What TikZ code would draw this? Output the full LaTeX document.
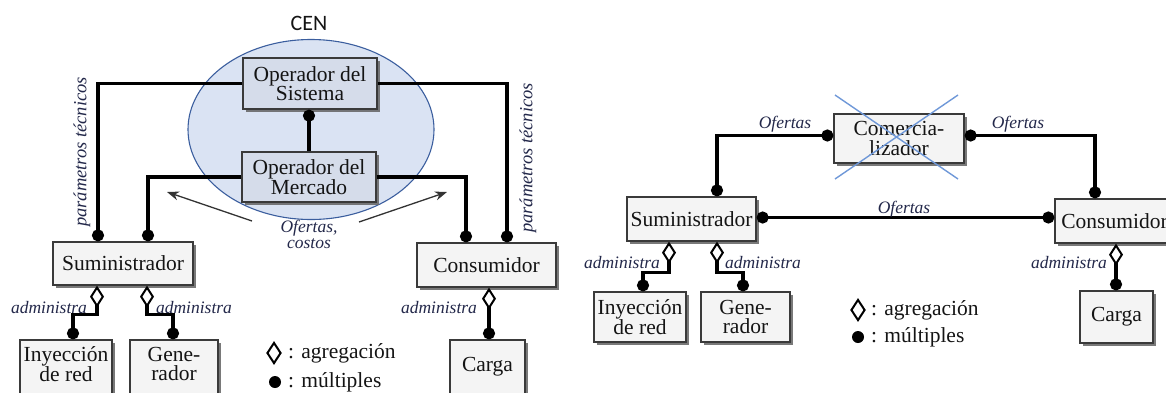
\documentclass[tikz,border=0pt]{standalone}
\usepackage{fontspec}
\setmainfont{Liberation Serif}
\newfontfamily\cenfont{Carlito}
\usetikzlibrary{arrows.meta,shapes.geometric,shadows}

\definecolor{boxfill}{HTML}{F4F4F4}
\definecolor{boxline}{HTML}{3A3A3A}
\definecolor{shadecol}{HTML}{6A6A6A}
\definecolor{cenfill}{HTML}{DAE3F3}
\definecolor{cenline}{HTML}{3B5E9E}
\definecolor{opfill}{HTML}{D5DCEA}
\definecolor{labelcol}{HTML}{23284A}
\definecolor{crosscol}{HTML}{6F98D8}
\definecolor{textcol}{HTML}{141414}

\newcommand\bxfont{\fontsize{21.5}{19.5}\selectfont}
\newcommand\lgfont{\fontsize{21.5}{21}\selectfont}
\newcommand\lblfont{\fontsize{17.5}{16}\selectfont\itshape}
\newcommand\ptfont{\fontsize{18.5}{18}\selectfont\itshape}

\tikzset{
  mdot/.tip={Circle[length=12pt,width=12pt]},
  aggr/.tip={Diamond[length=22pt,width=14pt,fill=white,line width=2pt]},
  entity/.style={draw=boxline, line width=1.3pt, fill=boxfill, inner sep=0pt,
    align=center, font=\bxfont, text=textcol,
    drop shadow={shadow xshift=2.5pt, shadow yshift=-2.5pt, fill=shadecol, opacity=0.9}},
  opbox/.style={fill=opfill},
  btext/.style={inner sep=0pt, align=center, font=\bxfont, text=textcol},
  conn/.style={line width=3.2pt, black},
  lbl/.style={inner sep=0pt, font=\lblfont, text=labelcol, align=center},
  ptlbl/.style={inner sep=0pt, font=\ptfont, text=labelcol, rotate=90},
  legtext/.style={inner sep=0pt, anchor=west, font=\lgfont, text=textcol},
  legdiamond/.style={diamond, draw=black, line width=2pt, fill=white, inner sep=0pt,
    minimum width=14pt, minimum height=21pt},
  legdot/.style={circle, fill=black, inner sep=0pt, minimum size=12pt},
  thinarrow/.style={draw=black!80, line width=1.3pt, -{Stealth[length=12pt,width=9pt]}},
  crossline/.style={draw=crosscol, line width=1.4pt},
}

\begin{document}
\begin{tikzpicture}[x=1pt, y=-1pt]
\useasboundingbox (0,0) rectangle (1166,392);

% ---------------- CEN block ----------------
\node[ellipse, draw=cenline, fill=cenfill, line width=1.1pt, inner sep=0pt,
      minimum width=246pt, minimum height=180pt] (cen) at (311,129.5) {};
\node[inner sep=0pt, font=\cenfont\fontsize{22}{22}\selectfont, text=textcol] (cenlbl) at (309,23) {CEN};

% ---------------- left scheme: entities ----------------
\node[entity, opbox, minimum width=134pt, minimum height=51pt] (ods) at (310,83.5) {Operador del\\Sistema};
\node[entity, opbox, minimum width=134pt, minimum height=50pt] (odm) at (309,177) {Operador del\\Mercado};
\node[entity, minimum width=140pt, minimum height=43pt] (sumL) at (123,263.5) {Suministrador};
\node[entity, minimum width=139pt, minimum height=44pt] (conL) at (486.5,265) {Consumidor};
\node[entity, minimum width=92pt, minimum height=60pt] (inyL) at (66,370) {};
\node[entity, minimum width=88pt, minimum height=60pt] (genL) at (174,370) {};
\node[entity, minimum width=75pt, minimum height=60pt] (cargaL) at (487.5,370) {};
\node[btext] (inyLt) at (66,364) {Inyección\\de red};
\node[btext] (genLt) at (174,364) {Gene-\\rador};
\node[btext] (cargaLt) at (487.5,367) {Carga};

% links to the operators
\draw[conn, -{mdot}] (ods.west) -| ([xshift=-25pt]sumL.north);
\draw[conn, -{mdot}] (ods.east) -| ([xshift=20.5pt]conL.north);
\draw[conn, -{mdot}] (odm.west) -| ([xshift=25pt]sumL.north);
\draw[conn, -{mdot}] (odm.east) -| ([xshift=-20.5pt]conL.north);
\draw[conn, -{mdot}] (odm.north) -- (odm.north |- ods.south);

% aggregations
\draw[conn, {aggr}-{mdot}] ([xshift=-26pt]sumL.south) -- ++(0,29) -| ([xshift=7pt]inyL.north);
\draw[conn, {aggr}-{mdot}] ([xshift=24pt]sumL.south) -- ++(0,29) -| ([xshift=-1pt]genL.north);
\draw[conn, {aggr}-{mdot}] ([xshift=2.5pt]conL.south) -- ([xshift=1.5pt]cargaL.north);

% labels
\node[ptlbl] (ptL) at (82,152) {parámetros técnicos};
\node[ptlbl] (ptR) at (528,158) {parámetros técnicos};
\node[lbl] (admL1) at (49,308) {administra};
\node[lbl] (admL2) at (194,308) {administra};
\node[lbl] (admL3) at (439,308) {administra};
\node[lbl] (ofc) at (309,234) {Ofertas,\\costos};
\coordinate (ofcA) at (252,221);
\coordinate (ofcB) at (359,222);
\coordinate (tipA) at (167,192);
\coordinate (tipB) at (447,192);
\draw[thinarrow] (ofcA) -- (tipA);
\draw[thinarrow] (ofcB) -- (tipB);

% legend
\node[legdiamond] (lgdL) at (274,353) {};
\node[legdot] (lgcL) at (275,382) {};
\node[legtext] (lgdLt) at (288,353) {: agregación};
\node[legtext] (lgcLt) at (288,382) {: múltiples};

% ---------------- right scheme ----------------
\node[entity, minimum width=130pt, minimum height=49pt] (com) at (899,138.5) {Comercia-\\lizador};
\node[entity, minimum width=129pt, minimum height=44pt] (sumR) at (691.5,219) {Suministrador};
\node[entity, minimum width=119pt, minimum height=44pt] (conR) at (1114.5,221) {Consumidor};
\node[entity, minimum width=92pt, minimum height=50pt] (inyR) at (640,317) {Inyección\\de red};
\node[entity, minimum width=89pt, minimum height=50pt] (genR) at (745.5,317) {Gene-\\rador};
\node[entity, minimum width=73pt, minimum height=52pt] (cargaR) at (1116.5,317) {Carga};

% the trader is crossed out
\draw[crossline] (835,95) -- (958,179);
\draw[crossline] (835,179) -- (958,95);

\draw[conn, {mdot}-{mdot}] ([yshift=3pt]com.west) -| ([xshift=25.5pt]sumR.north);
\draw[conn, {mdot}-{mdot}] ([yshift=3pt]com.east) -| ([xshift=-19.5pt]conR.north);
\coordinate (sumRe) at ([yshift=1.5pt]sumR.east);
\draw[conn, {mdot}-{mdot}] (sumRe) -- (sumRe -| conR.west);

\draw[conn, {aggr}-{mdot}] ([xshift=-22.5pt]sumR.south) -- ++(0,31) -| ([xshift=3pt]inyR.north);
\draw[conn, {aggr}-{mdot}] ([xshift=25.5pt]sumR.south) -- ++(0,31) -| ([xshift=-2.5pt]genR.north);
\draw[conn, {aggr}-{mdot}] ([xshift=1.5pt]conR.south) -- ([xshift=-0.5pt]cargaR.north);

\node[lbl] (ofR1) at (785,124) {Ofertas};
\node[lbl] (ofR2) at (1018,124) {Ofertas};
\node[lbl] (ofR3) at (904,209) {Ofertas};
\node[lbl] (admR1) at (622,263) {administra};
\node[lbl] (admR2) at (763,263) {administra};
\node[lbl] (admR3) at (1069,263) {administra};

\node[legdiamond] (lgdR) at (858,310) {};
\node[legdot] (lgcR) at (858,337) {};
\node[legtext] (lgdRt) at (871,310) {: agregación};
\node[legtext] (lgcRt) at (871,337) {: múltiples};
\end{tikzpicture}
\end{document}
